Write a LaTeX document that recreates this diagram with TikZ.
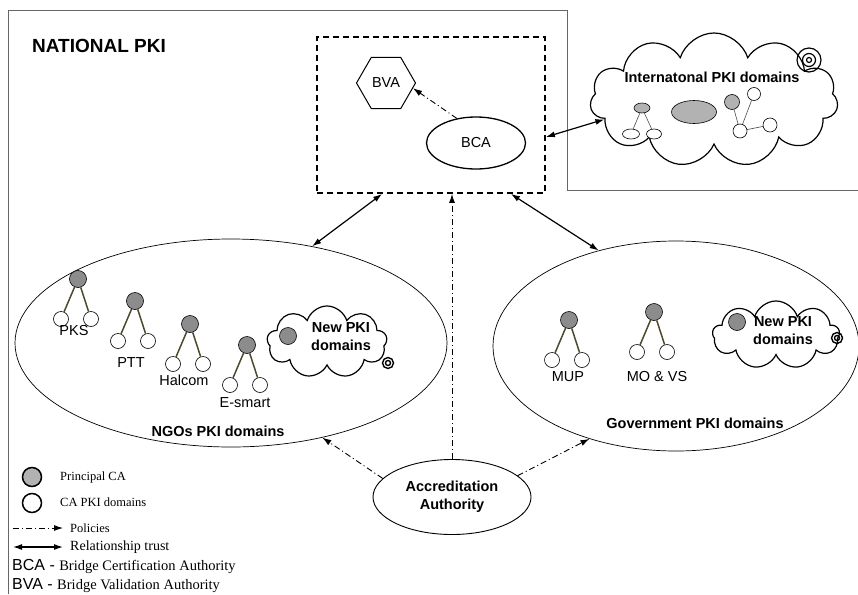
\documentclass[tikz,border=0pt]{standalone}
\usepackage{fontspec}
\setmainfont{Liberation Serif}
\setsansfont{Liberation Sans}
\usetikzlibrary{shapes.geometric,shapes.symbols,arrows.meta}

\begin{document}
\begin{tikzpicture}[x=1pt,y=-1pt,>={Latex[length=9pt,width=6pt]},
  font=\sffamily\fontsize{14.5}{18}\selectfont,
  btxt/.style={font=\sffamily\bfseries\fontsize{14.5}{18}\selectfont},
  dom/.style={draw,ellipse,line width=0.7pt,inner sep=0pt},
  ca/.style={draw,circle,fill=black!45,minimum size=17pt,inner sep=0pt,line width=0.6pt},
  sub/.style={draw,circle,fill=white,minimum size=15pt,inner sep=0pt,line width=0.6pt},
  branch/.style={draw=olive!40!black,line width=1.5pt},
  policy/.style={->,line width=0.9pt,dash pattern=on 6pt off 3pt on 1pt off 3pt},
  trust/.style={<->,line width=1.2pt},
  puff/.style={draw,cloud,cloud puffs=10,cloud puff arc=145,cloud ignores aspect,line width=1.2pt,inner sep=0pt},
  intca/.style={draw,ellipse,fill=black!30,inner sep=0pt,line width=0.6pt},
  intsub/.style={draw,ellipse,fill=white,inner sep=0pt,line width=0.6pt},
  legtxt/.style={font=\rmfamily\fontsize{12.5}{14}\selectfont,anchor=west,inner sep=0pt}]

\useasboundingbox (0,0) rectangle (858,594);
\draw[black!60,line width=0.9pt] (8,594) -- (8,10) -- (567,10) -- (567,190) -- (858,190);
\node[font=\sffamily\bfseries\fontsize{19}{22}\selectfont,anchor=west,inner sep=0pt] (title) at (32,46) {NATIONAL PKI};

% bridge
\node[draw,line width=1.8pt,dash pattern=on 6pt off 4pt,minimum width=228pt,minimum height=156pt,inner sep=0pt] (box) at (431,115) {};
\node[draw,regular polygon,regular polygon sides=6,minimum size=59pt,inner sep=0pt,line width=1pt] (bva) at (386,83) {BVA};
\node[dom,line width=1.3pt,minimum width=99pt,minimum height=52pt] (bca) at (476,143) {BCA};
\draw[policy] (bca.128) -- (bva.349);

% international
\node[puff,cloud puffs=11,minimum width=248pt,minimum height=134pt] (intl) at (714,100) {};
\node[btxt] (intltxt) at (712,77) {Internatonal PKI domains};
\node[intca,minimum width=16pt,minimum height=10pt] (ia) at (642,108) {};
\node[intsub,minimum width=17pt,minimum height=10pt] (ia1) at (631,134) {};
\node[intsub,minimum width=15pt,minimum height=10pt] (ia2) at (654,134) {};
\node[intca,minimum width=45pt,minimum height=23pt] (ib) at (694,112) {};
\node[intca,minimum size=15pt] (ic) at (732,102) {};
\node[intsub,minimum size=13pt] (ic1) at (754,94) {};
\node[intsub,minimum size=14pt] (ic2) at (740,131) {};
\node[intsub,minimum size=14pt] (ic3) at (770,125) {};
\draw[line width=0.6pt,black!70] (ia) -- (ia1) (ia) -- (ia2) (ic) -- (ic2) (ic1) -- (ic2) (ic2) -- (ic3);
\draw[line width=1.2pt] (809,60) circle (12) (809,60) circle (6.5) (809,60) circle (2.5);

% NGOs
\node[dom,minimum width=432pt,minimum height=208pt] (ngo) at (231,343) {};
\node[btxt] (ngotxt) at (218,431) {NGOs PKI domains};
\node[puff,cloud puffs=9,minimum width=120pt,minimum height=72pt] (ngonew) at (327,342) {};
\node[ca] (ngonewca) at (288,336) {};
\node[btxt,align=center] (ngonewtxt) at (341,337) {New PKI\\domains};
\draw[line width=1.4pt] (388,363) circle (5.5) (388,363) circle (2.5);

% Government
\node[dom,minimum width=366pt,minimum height=210pt] (gov) at (676,346) {};
\node[btxt] (govtxt) at (695,423) {Government PKI domains};
\node[puff,cloud puffs=9,minimum width=127pt,minimum height=68pt] (govnew) at (776,335) {};
\node[ca] (govnewca) at (737,322) {};
\node[btxt,align=center] (govnewtxt) at (783,331) {New PKI\\domains};
\draw[line width=1.4pt] (837,338) circle (5.5) (837,338) circle (2.5);

\foreach \nm/\x/\y/\lab/\lx/\ly in {pks/78/279/PKS/74/331, ptt/135/301/PTT/131/363,
    halcom/190/324/Halcom/184/380, esmart/247/345/E-smart/245/403,
    mup/569/320/MUP/568/377, mov/654/312/{MO \& VS}/657/377}{
  \node[ca] (\nm) at (\x,\y) {};
  \node[sub] (\nm-l) at (\x-17,\y+40) {};
  \node[sub] (\nm-r) at (\x+13,\y+40) {};
  \draw[branch] (\nm) -- (\nm-l) (\nm) -- (\nm-r);
  \node (\nm-lab) at (\lx,\ly) {\lab};
}

% accreditation
\node[dom,line width=0.9pt,minimum width=158pt,minimum height=75pt,align=center,btxt] (aa) at (452,497) {Accreditation\\Authority};

\draw[trust] ([xshift=66pt]box.south west) -- (ngo.50);
\draw[trust] ([xshift=-35pt]box.south east) -- (gov.129);
\draw[trust] ([yshift=-22pt]box.east) -- (intl.190);
\draw[policy] (aa.north) -- (aa.north |- box.south);
\draw[policy] (aa.165) -- (ngo.314);
\draw[policy] (aa.18) -- (gov.227);

% legend
\node[ca,fill=black!30,minimum size=19pt,line width=1.5pt] (legca) at (32,477) {};
\node[legtxt] (legcatxt) at (60,477) {Principal CA};
\node[sub,minimum size=19pt,line width=1.5pt] (legsub) at (32,503) {};
\node[legtxt] (legsubtxt) at (60,502) {CA PKI domains};
\coordinate (legpol) at (13,528);
\node[legtxt] (legpoltxt) at (70,528) {Policies};
\draw[policy] (legpol) -- ([xshift=-7pt]legpoltxt.west);
\coordinate (legtr) at (13,547);
\node[legtxt,font=\rmfamily\fontsize{14}{16}\selectfont] (legtrtxt) at (70,547) {Relationship trust};
\draw[trust] (legtr) -- ([xshift=-7pt]legtrtxt.west);
\node[anchor=west,inner sep=0pt] (legbca) at (12,566) {\fontsize{16}{18}\selectfont BCA - \rmfamily\fontsize{14.5}{16}\selectfont Bridge Certification Authority};
\node[anchor=west,inner sep=0pt] (legbva) at (12,586) {\fontsize{16}{18}\selectfont BVA - \rmfamily\fontsize{14.5}{16}\selectfont Bridge Validation Authority};
\end{tikzpicture}
\end{document}
